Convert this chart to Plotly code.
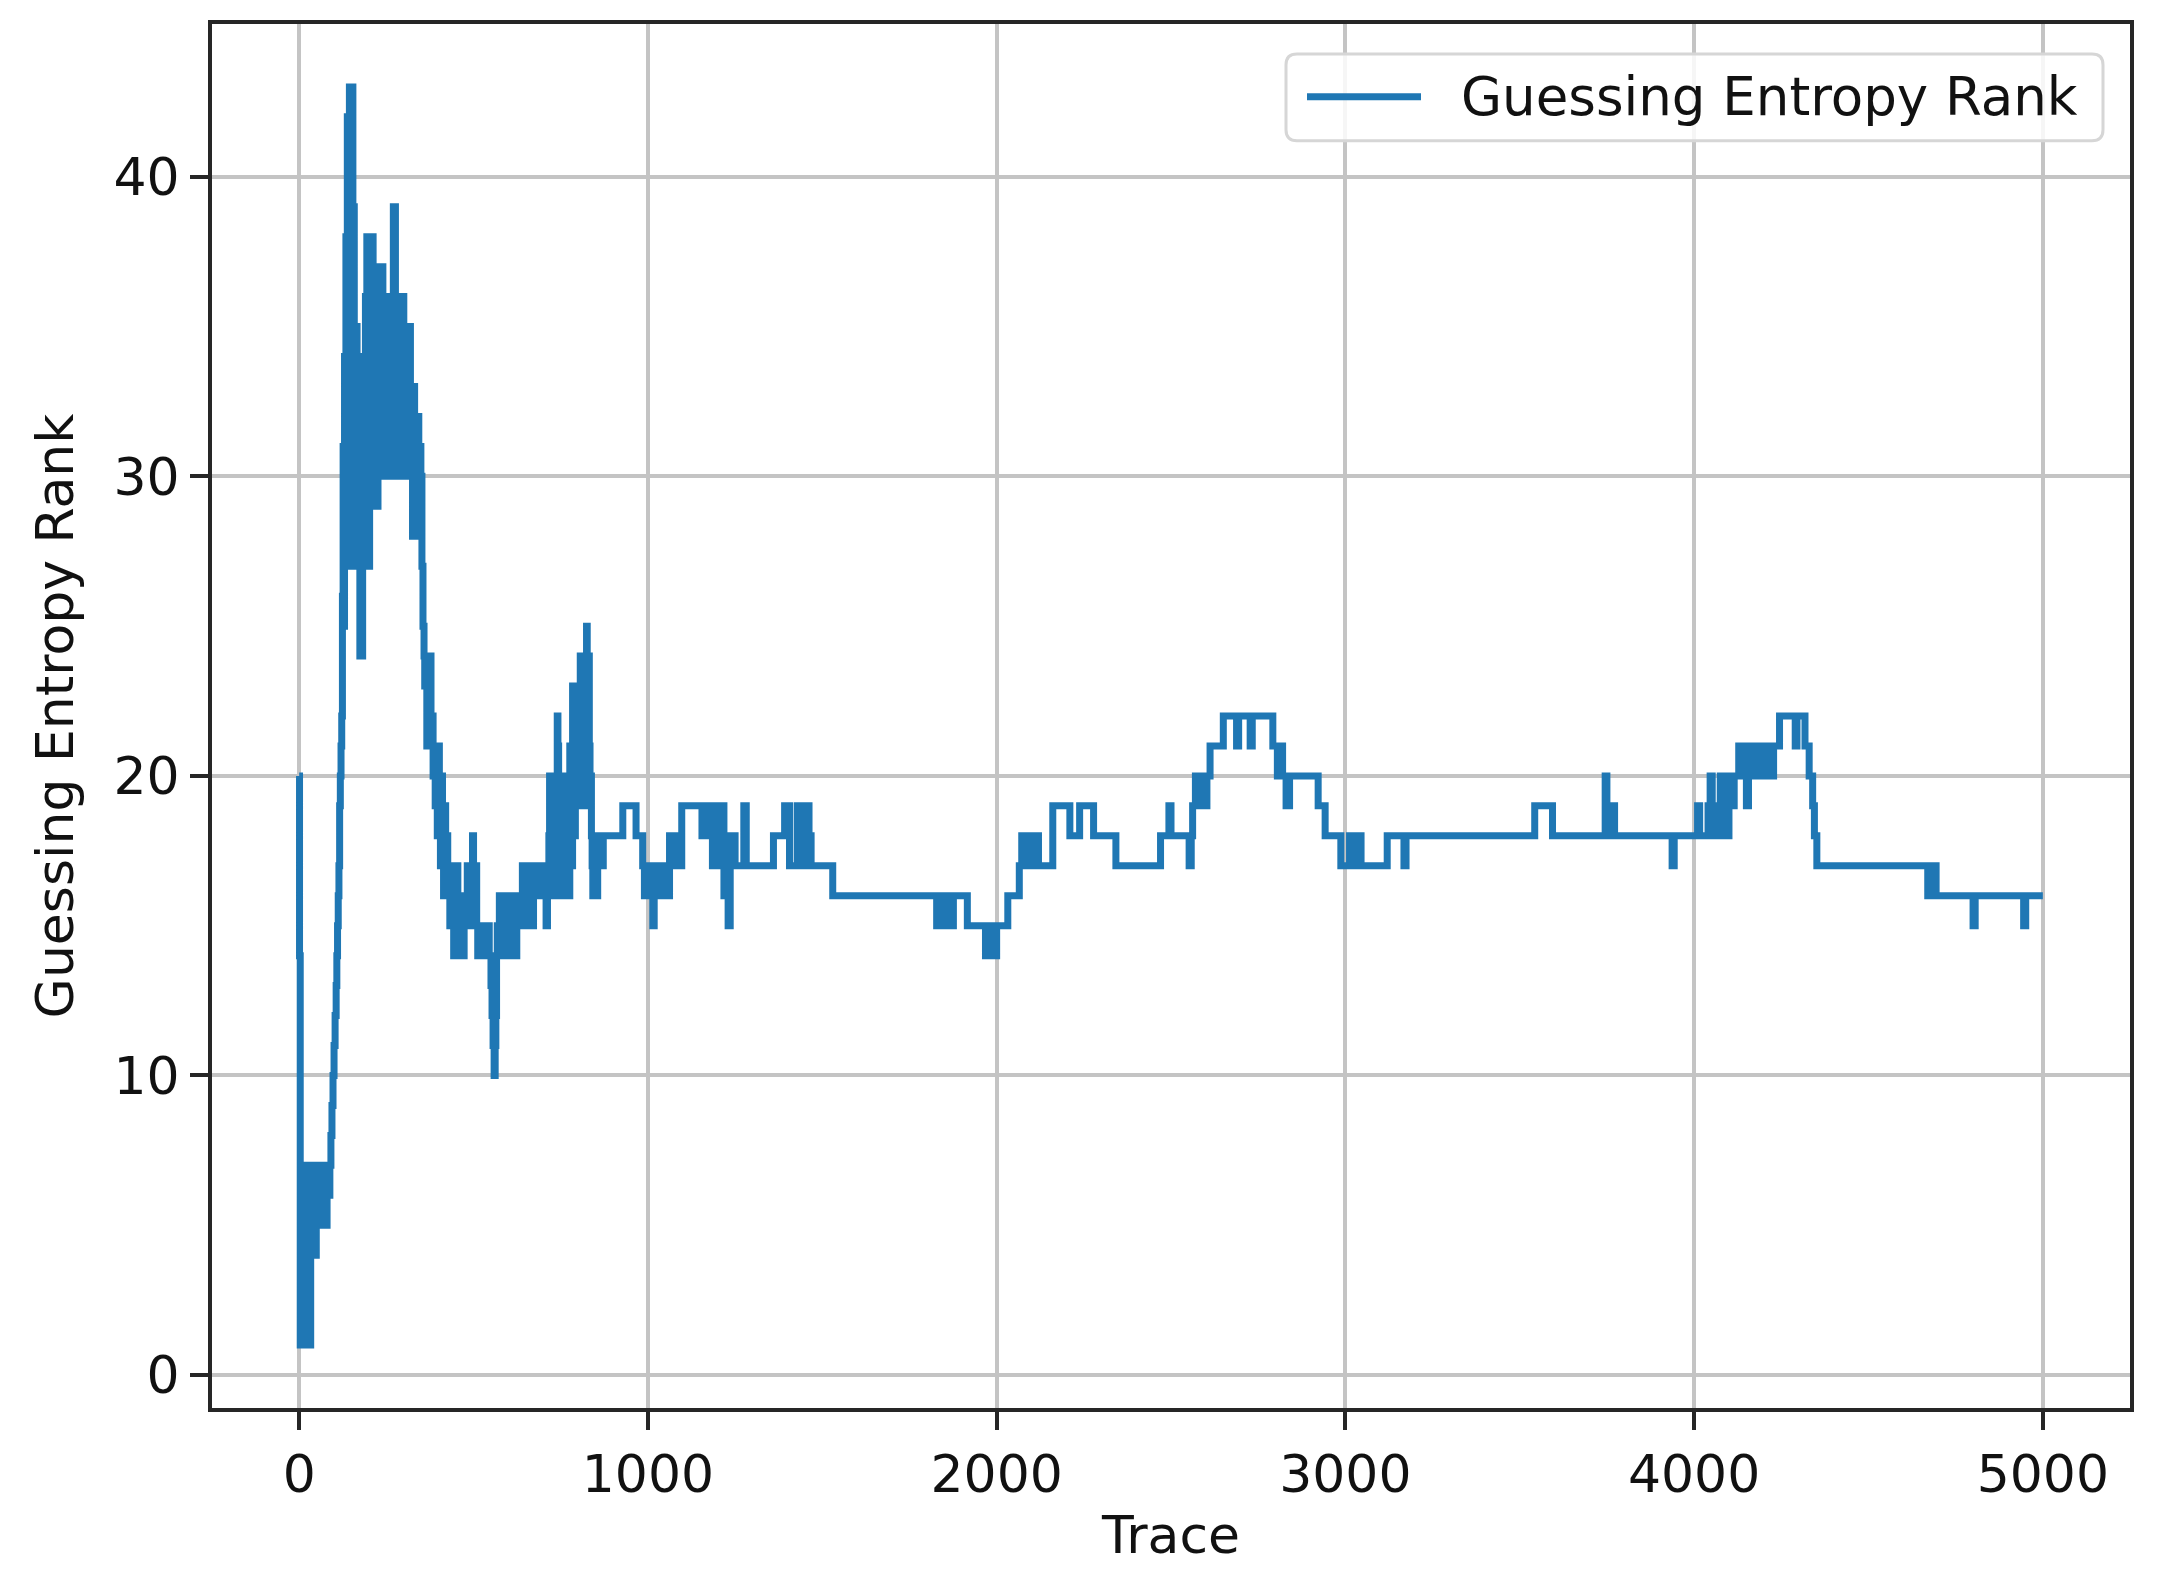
import plotly.graph_objects as go

# Step breakpoints of the guessing-entropy rank: (trace index, rank held until the next index)
steps_start = [
    (0, 20), (1, 14), (3, 1), (5, 6), (7, 2), (9, 7), (11, 1), (13, 5), (15, 1), (17, 7),
    (19, 3), (21, 6), (23, 1), (25, 7), (27, 2), (29, 5), (31, 1), (33, 6), (35, 4), (37, 7),
    (39, 4), (41, 6), (43, 5), (45, 7), (47, 4), (49, 6), (51, 5), (53, 7), (56, 5), (59, 7),
    (62, 5), (65, 6), (68, 7), (71, 5), (74, 7), (77, 5), (80, 7), (84, 6), (88, 7), (91, 8),
    (94, 9), (97, 10), (100, 11), (103, 12), (106, 13), (108, 14), (110, 15), (112, 16),
    (114, 17), (116, 19), (118, 20), (120, 21), (122, 22),
]

steps_peak = [
    (124, 26), (126, 31), (128, 25), (130, 34), (132, 28), (134, 38), (136, 31), (138, 42),
    (140, 27), (142, 36), (144, 43), (146, 30), (148, 42), (150, 28), (152, 43), (154, 33),
    (156, 39), (158, 27), (160, 33), (162, 29), (164, 35), (166, 27), (168, 32), (170, 30),
    (172, 34), (174, 24), (178, 28), (180, 24), (182, 31), (184, 27), (186, 33), (188, 28),
    (190, 36), (192, 30), (194, 38), (196, 29), (198, 35), (200, 27), (202, 38), (204, 30),
    (206, 37), (208, 31), (210, 38), (212, 29), (214, 36), (216, 30), (218, 37), (220, 33),
    (222, 36), (224, 29), (226, 37), (228, 31), (230, 36), (232, 30), (234, 35), (236, 31),
    (238, 37), (240, 30), (242, 34), (244, 32), (246, 36), (248, 30), (250, 35), (252, 31),
    (254, 36), (256, 30), (258, 34), (260, 31), (262, 33), (264, 30), (266, 36), (268, 32),
    (270, 39), (272, 31), (274, 39), (276, 33), (278, 36), (280, 30), (282, 36), (284, 31),
    (286, 35), (288, 30), (290, 36), (292, 32), (294, 35), (296, 30), (298, 36), (300, 31),
    (304, 35), (306, 30), (310, 34), (313, 30), (316, 35), (319, 30), (322, 33), (325, 28),
    (328, 33), (331, 30), (334, 32), (337, 28), (340, 32), (343, 30), (346, 31), (349, 30),
    (352, 27), (355, 25), (358, 24), (360, 23), (363, 24), (366, 21), (369, 23), (372, 22),
    (375, 24), (378, 21), (381, 22), (384, 20), (387, 21), (390, 19), (393, 20), (396, 18),
    (399, 21), (402, 19), (405, 17), (408, 20), (411, 18), (414, 16), (417, 19), (420, 17),
    (423, 18), (426, 16), (429, 17), (432, 15), (435, 17), (438, 16),
]

steps_dip = [
    (440, 16), (443, 14), (446, 16), (449, 15), (452, 17), (455, 14), (458, 16), (461, 15),
    (464, 14), (467, 16), (470, 14), (473, 15), (476, 16), (479, 15), (482, 17), (485, 15),
    (488, 16), (491, 15), (494, 17), (497, 18), (500, 16), (503, 15), (506, 17), (509, 15),
    (512, 14), (515, 15), (518, 14), (521, 15), (524, 14), (527, 15), (530, 14), (533, 15),
    (536, 14), (540, 15), (545, 14), (550, 13), (553, 12), (556, 11), (559, 10), (562, 11),
    (564, 12), (566, 14), (568, 15), (571, 14), (574, 16), (577, 14), (580, 15), (583, 14),
    (586, 16), (589, 15), (592, 14), (595, 16), (598, 15), (601, 14), (604, 16), (608, 15),
    (612, 16), (616, 15), (620, 14), (624, 16), (628, 15), (632, 16), (636, 15), (640, 17),
    (644, 16), (648, 17), (652, 15), (656, 17), (660, 16), (664, 17), (668, 15), (672, 17),
    (676, 16), (680, 17), (684, 16), (688, 17), (692, 16), (696, 17), (700, 16), (704, 17),
    (708, 15), (712, 17),
]

steps_second_peak = [
    (716, 18), (718, 20), (720, 17), (722, 19), (724, 16), (726, 20), (728, 17), (730, 18),
    (732, 20), (734, 16), (736, 19), (738, 17), (740, 22), (742, 21), (744, 17), (746, 20),
    (748, 16), (750, 19), (752, 17), (754, 20), (756, 16), (758, 19), (760, 17), (762, 20),
    (764, 18), (766, 16), (768, 20), (770, 17), (772, 19), (774, 16), (776, 21), (778, 18),
    (780, 20), (782, 17), (784, 23), (786, 20), (788, 22), (790, 18), (792, 21), (794, 19),
    (796, 23), (798, 20), (800, 22), (802, 19), (804, 21), (806, 24), (808, 20), (810, 22),
    (812, 19), (814, 23), (816, 20), (818, 24), (820, 21), (822, 23), (824, 25), (826, 22),
    (828, 20), (830, 24), (832, 21), (834, 19), (836, 20), (838, 18), (840, 17), (842, 16),
    (844, 18), (848, 17), (852, 16), (856, 18), (860, 17), (864, 18), (868, 17), (872, 18),
]

steps_middle = [
    (928, 19), (966, 18), (985, 17), (990, 16), (1000, 17), (1010, 16), (1014, 15), (1018, 16),
    (1025, 17), (1035, 16), (1045, 17), (1055, 16), (1062, 18), (1072, 17), (1080, 18),
    (1088, 17), (1097, 19), (1155, 18), (1162, 19), (1170, 18), (1178, 19), (1185, 17),
    (1192, 19), (1198, 18), (1205, 17), (1212, 19), (1218, 16), (1224, 18), (1230, 15),
    (1236, 17), (1243, 18), (1250, 17), (1275, 19), (1282, 17), (1360, 18), (1392, 19),
    (1406, 17), (1428, 19), (1434, 18), (1442, 17), (1448, 19), (1452, 18), (1456, 19),
    (1462, 18), (1468, 17), (1530, 16), (1828, 15), (1834, 16), (1842, 15), (1850, 16),
    (1856, 15), (1862, 16), (1868, 15), (1876, 16), (1916, 15), (1968, 14), (1972, 15),
    (1978, 14), (1986, 15), (1994, 14), (2000, 15), (2032, 16), (2065, 17), (2072, 18),
    (2082, 17), (2090, 18), (2100, 17), (2108, 18), (2120, 17), (2161, 19), (2210, 18),
    (2238, 19), (2278, 18), (2342, 17), (2470, 18), (2494, 19), (2500, 18), (2552, 17),
    (2558, 18), (2562, 19), (2570, 20), (2578, 19), (2586, 20), (2595, 19), (2603, 20),
    (2612, 21), (2650, 22), (2688, 21), (2694, 22), (2727, 21), (2733, 22), (2792, 21),
    (2805, 20), (2812, 21), (2820, 20), (2830, 19), (2840, 20), (2922, 19), (2942, 18),
    (2987, 17),
]

steps_late = [
    (3012, 18), (3022, 17), (3028, 18), (3045, 17), (3120, 18), (3168, 17), (3174, 18),
    (3543, 19), (3594, 18), (3745, 20), (3750, 19), (3758, 18), (3764, 19), (3772, 18),
    (3937, 17), (3943, 18), (4010, 19), (4016, 18), (4040, 19), (4046, 20), (4052, 18),
    (4060, 19), (4066, 18), (4075, 20), (4082, 19), (4090, 18), (4100, 20), (4108, 19),
    (4115, 20), (4128, 21), (4134, 20), (4140, 21), (4150, 19), (4156, 21), (4162, 20),
    (4168, 21), (4175, 20), (4182, 21), (4190, 20), (4198, 21), (4205, 20), (4212, 21),
    (4220, 20), (4228, 21), (4245, 22), (4290, 21), (4295, 22), (4318, 21), (4330, 20),
    (4340, 19), (4345, 18), (4352, 17), (4670, 16), (4676, 17), (4682, 16), (4688, 17),
    (4694, 16), (4800, 15), (4806, 16), (4945, 15), (4951, 16), (5000, 16),
]

x_ticks = [0, 1000, 2000, 3000, 4000, 5000]
y_ticks = [0, 10, 20, 30, 40]
series_name = "Guessing Entropy Rank"

all_steps = steps_start + steps_peak + steps_dip + steps_second_peak + steps_middle + steps_late
trace_x = [s[0] for s in all_steps]
rank_y = [s[1] for s in all_steps]

FONT = "DejaVu Sans"
LINE_COLOR = "#1f77b4"
TEXT_COLOR = "#111111"
# page has an 8px body margin; size the figure so it fills the 2169x1582 window exactly
OFF = 8
W, H = 2169 - OFF, 1582 - OFF
L, T = 212 - OFF, 21 - OFF
R, B = W - (2130 - OFF), H - (1408 - OFF)
PW, PH = W - L - R, H - T - B

fig = go.Figure()
fig.add_trace(go.Scatter(
    x=trace_x, y=rank_y, mode="lines", line_shape="hv",
    line=dict(color=LINE_COLOR, width=7), name=series_name, showlegend=False,
))

axis_common = dict(
    showline=True, linewidth=4, linecolor="#262626", mirror=True,
    ticks="outside", ticklen=18, tickwidth=4, tickcolor="#262626",
    showgrid=True, gridcolor="#c4c4c4", gridwidth=3.5, zeroline=False,
    tickfont=dict(family=FONT, size=52, color=TEXT_COLOR),
)

fig.update_xaxes(range=[-250, 5250], tickvals=x_ticks,
                 ticktext=[str(v) for v in x_ticks],
                 title=dict(text="Trace", font=dict(family=FONT, size=52, color=TEXT_COLOR), standoff=14),
                 **axis_common)
fig.update_yaxes(range=[-1.1, 45.1], tickvals=y_ticks,
                 ticktext=[str(v) for v in y_ticks],
                 title=dict(text=series_name, font=dict(family=FONT, size=52, color=TEXT_COLOR), standoff=24),
                 **axis_common)


def px_x(p):
    # p: screen pixel (window coords) -> paper fraction
    return (p - OFF - L) / PW


def px_y(p):
    return (H - B - (p - OFF)) / PH


# legend frame (rounded, upper right) drawn in paper coordinates
bx0, bx1, by0, by1 = 1286, 2103, 51, 138
rad = 11
rx, ry = rad / PW, rad / PH
X0, X1, Yt, Yb = px_x(bx0), px_x(bx1), px_y(by0), px_y(by1)
path = (f"M {X0+rx},{Yt} L {X1-rx},{Yt} Q {X1},{Yt} {X1},{Yt-ry} "
        f"L {X1},{Yb+ry} Q {X1},{Yb} {X1-rx},{Yb} L {X0+rx},{Yb} "
        f"Q {X0},{Yb} {X0},{Yb+ry} L {X0},{Yt-ry} Q {X0},{Yt} {X0+rx},{Yt} Z")
fig.add_shape(type="path", path=path, xref="paper", yref="paper",
              fillcolor="rgba(255,255,255,0.85)", line=dict(color="#d6d6d6", width=3))
fig.add_shape(type="line", xref="paper", yref="paper",
              x0=px_x(1307), x1=px_x(1421), y0=px_y(94), y1=px_y(94),
              line=dict(color=LINE_COLOR, width=7))
fig.add_annotation(x=px_x(1459), y=px_y(94), xref="paper", yref="paper",
                   text=series_name, showarrow=False, xanchor="left", yanchor="middle",
                   font=dict(family=FONT, size=53, color=TEXT_COLOR))

fig.update_layout(
    width=W, height=H, margin=dict(l=L, r=R, t=T, b=B),
    paper_bgcolor="white", plot_bgcolor="white",
    font=dict(family=FONT, size=52, color=TEXT_COLOR),
)

fig.write_html("out.html")
